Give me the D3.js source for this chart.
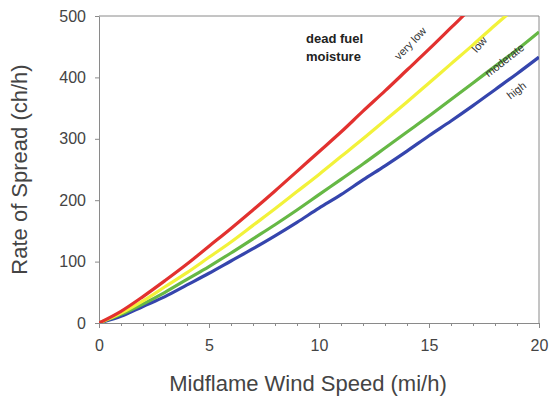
<!DOCTYPE html>
<html>
<head>
<meta charset="utf-8">
<script src="https://cdn.jsdelivr.net/npm/d3@7"></script>
<style>
	body { margin: 0; background: #fff; }
	svg { display: block; font-family: Arial, "Liberation Sans", sans-serif; }
	.axis path, .axis line { stroke: #8a8a8a; }
	.axis text { fill: #444; font-size: 16px; }
	.axis_title { fill: #444; font-size: 22px; }
	.curve { fill: none; stroke-width: 3.2px; stroke-linejoin: round; }
	.curve_label { fill: #333; font-size: 11px; }
	.note { fill: #222; font-size: 13px; font-weight: bold; }
</style>
</head>
<body>
<svg id="chart" width="551" height="406"></svg>
<script>
// midflame wind speed (mi/h)
var wind = [0,1,2,3,4,5,6,7,8,9,10,11,12,13,14,15,16,17,18,19,20];

// rate of spread (ch/h), one series per dead fuel moisture class
var veryLow  = [0,19,43,69,96,125,154,184,215,247,279,311,345,378,412,446,481,516,552,588,625];
var low      = [0,16,36,59,82,107,132,159,186,214,242,271,300,330,360,391,422,453,485,516,548];
var moderate = [0,14,31,50,71,92,114,137,160,184,209,234,259,285,311,337,364,391,418,445,474];
var high     = [0,11,27,43,62,81,101,121,142,164,187,209,233,256,280,305,329,354,380,406,433];

var seriesNames  = ["very low","low","moderate","high"];
var seriesColors = ["#e2312f","#f2f23a","#66b845","#3545ad"];

var xTicks = [0,5,10,15,20];
var yTicks = [0,100,200,300,400,500];

(function(){
	var svg = d3.select("#chart"),
		left = 99, right = 539, top = 16, bottom = 323;

	var x = d3.scaleLinear().domain([0,20]).range([left,right]),
		y = d3.scaleLinear().domain([0,500]).range([bottom,top]);

	svg.append("clipPath")
		.attr("id","plot_clip")
		.append("rect")
		.attr("x",left).attr("y",top)
		.attr("width",right-left).attr("height",bottom-top);

	// frame top / right
	svg.append("path")
		.attr("d","M"+left+","+top+"H"+right+"V"+bottom)
		.attr("fill","none")
		.attr("stroke","#8a8a8a");

	// minor ticks every 1 mi/h on the x axis
	svg.append("g")
		.attr("class","axis")
		.attr("transform","translate(0,"+bottom+")")
		.call(d3.axisBottom(x).ticks(20).tickSize(3).tickFormat(""))
		.select(".domain").remove();

	svg.append("g")
		.attr("class","axis")
		.attr("transform","translate(0,"+bottom+")")
		.call(d3.axisBottom(x).tickValues(xTicks).tickSize(5).tickPadding(12).tickSizeOuter(0));

	svg.append("g")
		.attr("class","axis")
		.attr("transform","translate("+left+",0)")
		.call(d3.axisLeft(y).tickValues(yTicks).tickSize(4).tickPadding(9).tickSizeOuter(0));

	var line = d3.line()
		.x(function(d){ return x(d[0]); })
		.y(function(d){ return y(d[1]); })
		.curve(d3.curveMonotoneX);

	var series = [veryLow, low, moderate, high];
	var plot = svg.append("g").attr("clip-path","url(#plot_clip)");

	// draw back to front so the red curve sits on top like the original
	for (var i = series.length-1; i >= 0; i--){
		plot.append("path")
			.datum(d3.zip(wind, series[i]))
			.attr("class","curve")
			.attr("stroke",seriesColors[i])
			.attr("d",line);
	}

	// rotated curve labels
	var labelPos = [[411,44,-46],[480,45,-49],[505,61,-38],[517,91,-38]];
	svg.selectAll(".curve_label")
		.data(seriesNames)
		.enter()
		.append("text")
		.attr("class","curve_label")
		.attr("text-anchor","middle")
		.attr("dominant-baseline","middle")
		.attr("transform",function(d,i){
			var p = labelPos[i];
			return "translate("+p[0]+","+p[1]+") rotate("+p[2]+")";
		})
		.text(function(d){ return d; });

	svg.append("text").attr("class","note").attr("x",306).attr("y",43).text("dead fuel");
	svg.append("text").attr("class","note").attr("x",306).attr("y",61).text("moisture");

	svg.append("text")
		.attr("class","axis_title")
		.attr("text-anchor","middle")
		.attr("x",308)
		.attr("y",391)
		.text("Midflame Wind Speed (mi/h)");

	svg.append("text")
		.attr("class","axis_title")
		.attr("text-anchor","middle")
		.attr("transform","translate(27,"+((top+bottom)/2)+") rotate(-90)")
		.text("Rate of Spread (ch/h)");
})();
</script>
</body>
</html>
